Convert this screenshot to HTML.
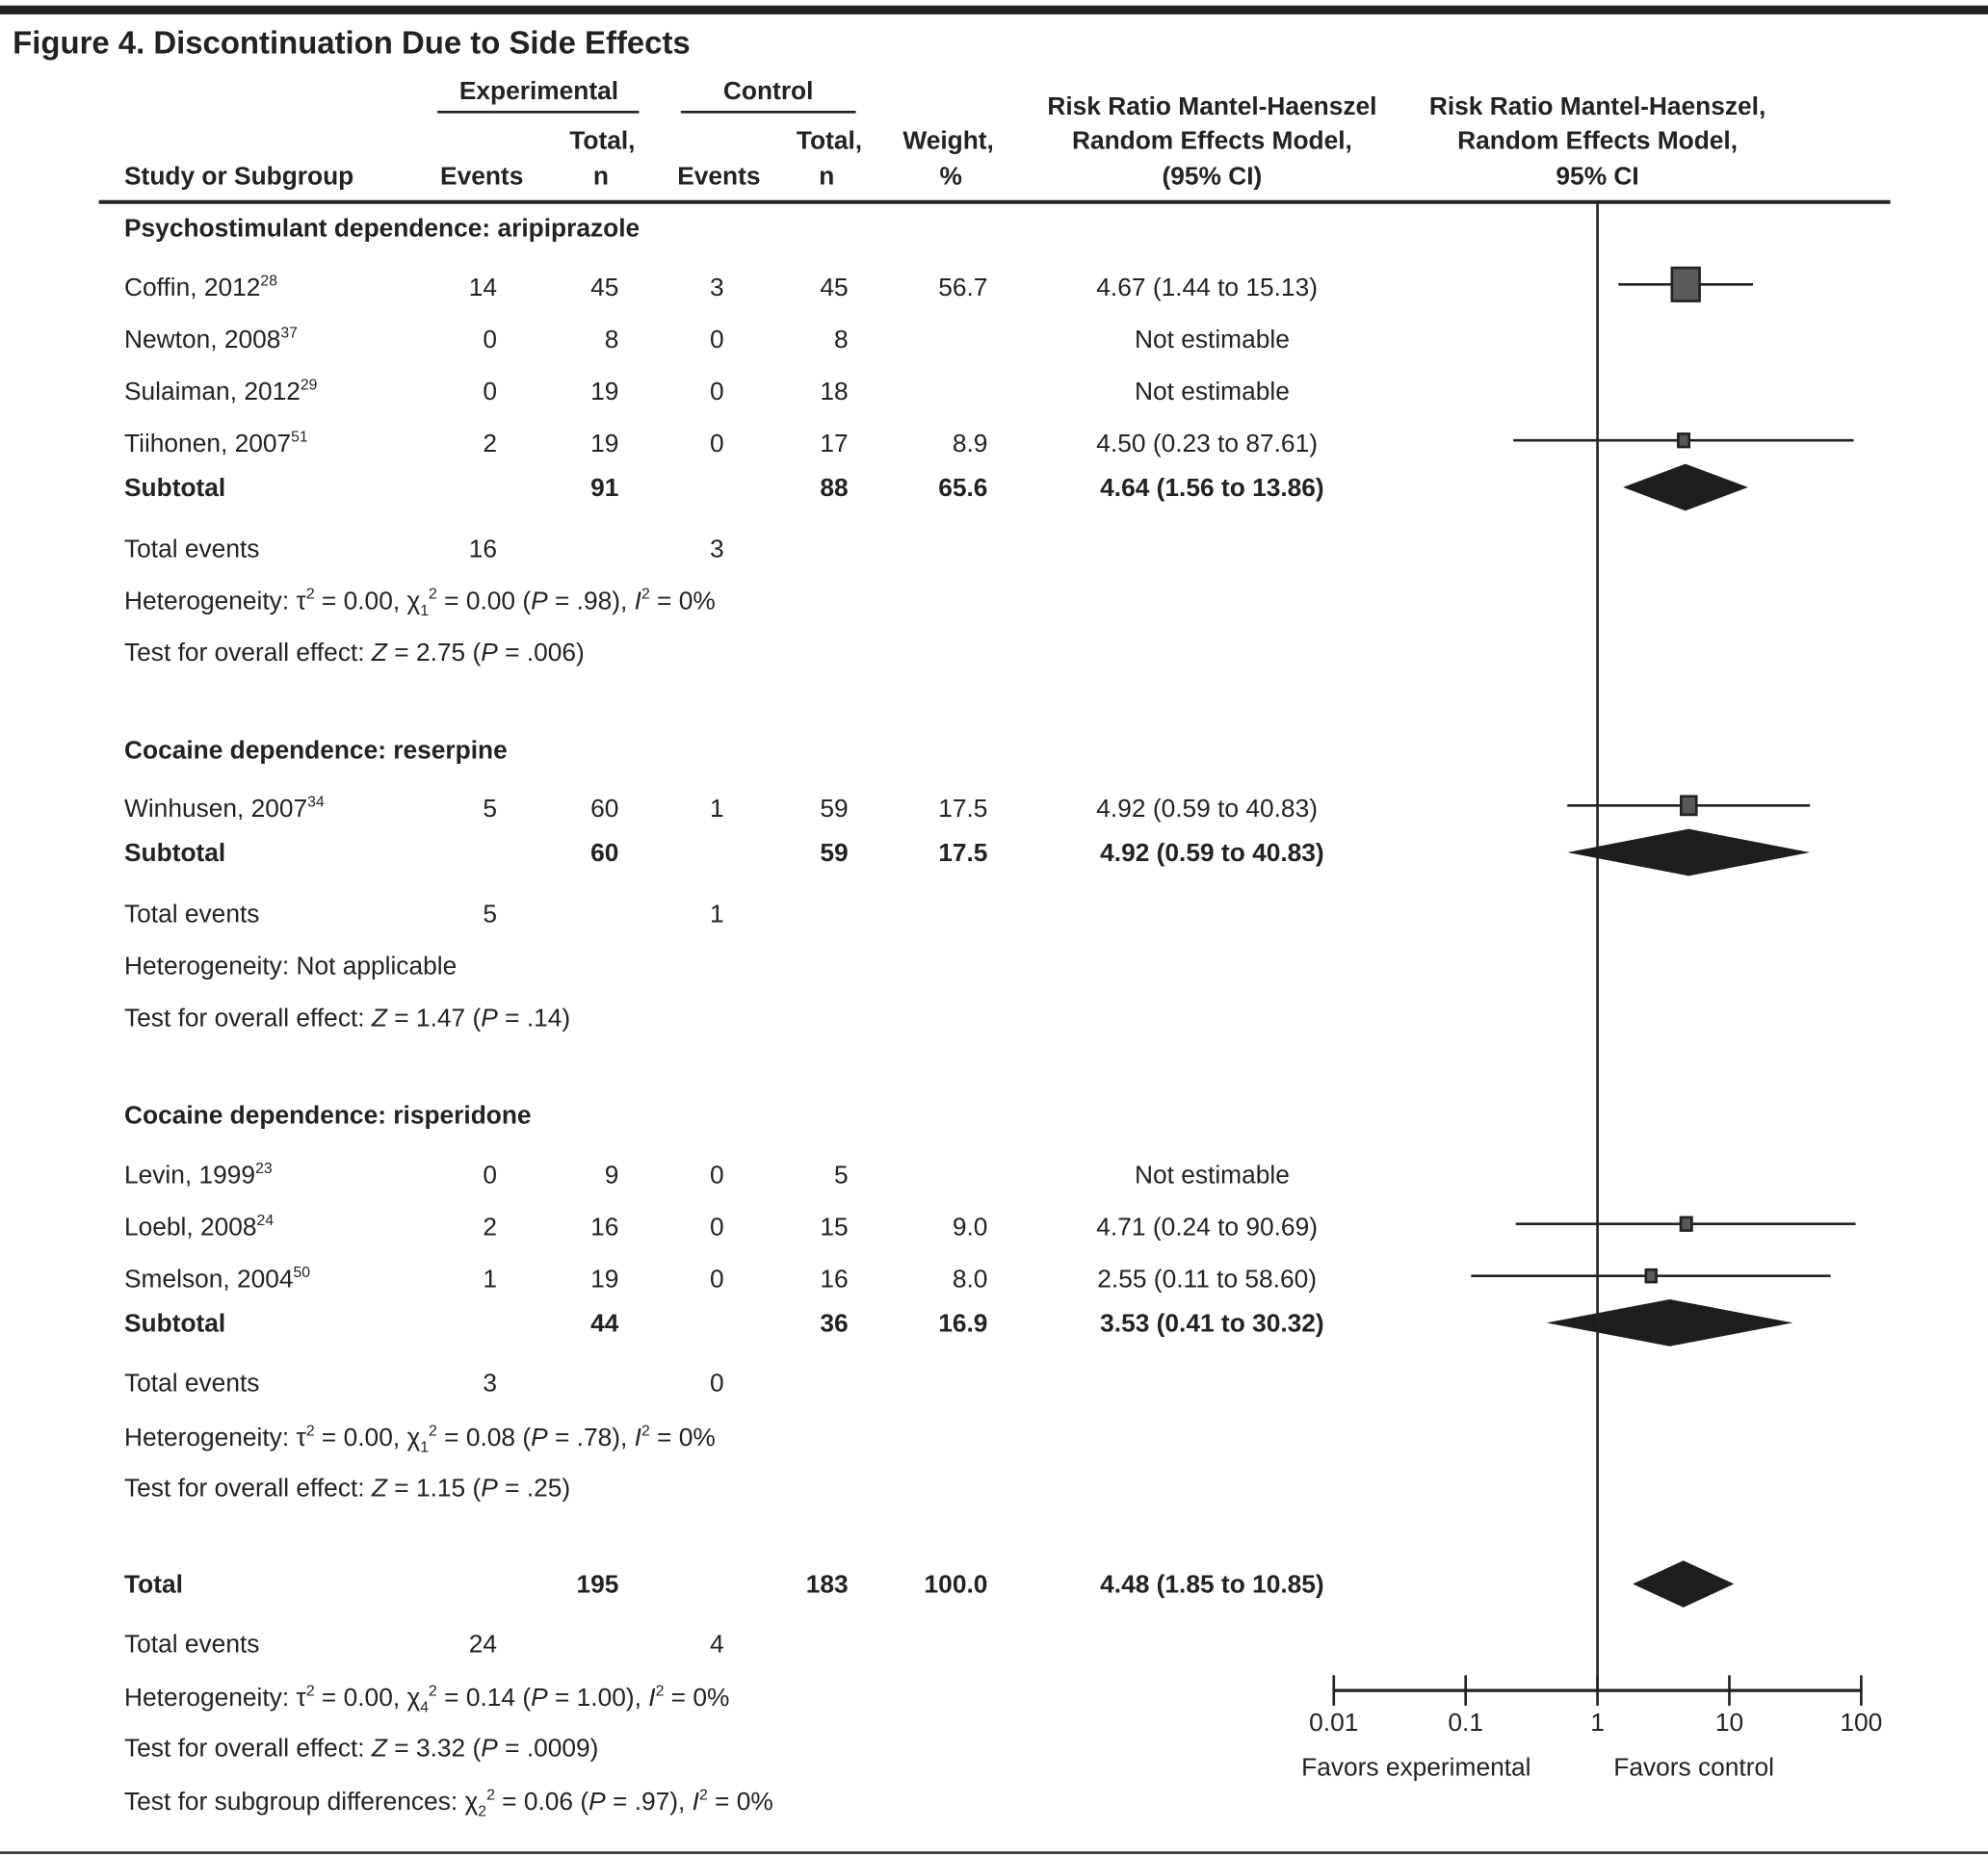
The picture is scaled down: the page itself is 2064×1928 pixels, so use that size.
<!DOCTYPE html>
<html><head><meta charset="utf-8"><style>
html,body{margin:0;padding:0;background:#fff}
svg{display:block}
text{font-family:"Liberation Sans",sans-serif;fill:#222;font-size:20px}
.b{font-weight:bold}
.i{font-style:italic}
</style></head><body>
<svg id="fig" width="2064" height="1928" viewBox="0 0 1568 1464" xmlns="http://www.w3.org/2000/svg">
<rect x="0" y="4" width="1568" height="7" fill="#222"/>
<text x="10" y="42" class="b" style="font-size:25px">Figure 4. Discontinuation Due to Side Effects</text>
<g>
<text class="b" x="425" y="78" text-anchor="middle">Experimental</text>
<line x1="345" y1="88" x2="504" y2="88" stroke="#222" stroke-width="2"/>
<text class="b" x="606" y="78" text-anchor="middle">Control</text>
<line x1="537" y1="88" x2="675" y2="88" stroke="#222" stroke-width="2"/>
<text class="b" x="98" y="145">Study or Subgroup</text>
<text class="b" x="380" y="145" text-anchor="middle">Events</text>
<text class="b" x="501" y="117" text-anchor="end">Total,</text>
<text class="b" x="474" y="145" text-anchor="middle">n</text>
<text class="b" x="567" y="145" text-anchor="middle">Events</text>
<text class="b" x="680" y="117" text-anchor="end">Total,</text>
<text class="b" x="652" y="145" text-anchor="middle">n</text>
<text class="b" x="748" y="117" text-anchor="middle">Weight,</text>
<text class="b" x="750" y="145" text-anchor="middle">%</text>
<text class="b" x="956" y="90" text-anchor="middle">Risk Ratio Mantel-Haenszel</text>
<text class="b" x="956" y="117" text-anchor="middle">Random Effects Model,</text>
<text class="b" x="956" y="145" text-anchor="middle">(95% CI)</text>
<text class="b" x="1260" y="90" text-anchor="middle">Risk Ratio Mantel-Haenszel,</text>
<text class="b" x="1260" y="117" text-anchor="middle">Random Effects Model,</text>
<text class="b" x="1260" y="145" text-anchor="middle">95% CI</text>
</g>
<line x1="78" y1="159" x2="1491" y2="159" stroke="#222" stroke-width="3"/>
<line x1="0" y1="1461" x2="1568" y2="1461" stroke="#333" stroke-width="2"/>
<g id="rows"></g>
<g id="plot"></g>
</svg>
<script>
const studies = ["Coffin, 2012","Newton, 2008","Sulaiman, 2012","Tiihonen, 2007","Winhusen, 2007","Levin, 1999","Loebl, 2008","Smelson, 2004"];
const refs = ["28","37","29","51","34","23","24","50"];
const studyY = [226,267,308,349,637,926,967,1008];
const expEvents = [14,0,0,2,5,0,2,1];
const expTotal = [45,8,19,19,60,9,16,19];
const ctlEvents = [3,0,0,0,1,0,0,0];
const ctlTotal = [45,8,18,17,59,5,15,16];
const weights = [56.7,null,null,8.9,17.5,null,9.0,8.0];
const rr = [4.67,null,null,4.50,4.92,null,4.71,2.55];
const lo = [1.44,null,null,0.23,0.59,null,0.24,0.11];
const hi = [15.13,null,null,87.61,40.83,null,90.69,58.60];
const sumLabels = ["Subtotal","Subtotal","Subtotal","Total"];
const sumY = [384,672,1043,1249];
const sumExpTotal = [91,60,44,195];
const sumCtlTotal = [88,59,36,183];
const sumWeight = ["65.6","17.5","16.9","100.0"];
const sumRR = [4.64,4.92,3.53,4.48];
const sumLo = [1.56,0.59,0.41,1.85];
const sumHi = [13.86,40.83,30.32,10.85];
const axisTicks = [0.01,0.1,1,10,100];
const tickLabels = ["0.01","0.1","1","10","100"];

const NS="http://www.w3.org/2000/svg";
const rows=document.getElementById('rows'), plot=document.getElementById('plot');
function xs(v){return 1260+104*Math.log10(v);}
function t(parent,x,y,str,anchor,cls){const e=document.createElementNS(NS,'text');e.setAttribute('x',x);e.setAttribute('y',y);if(anchor)e.setAttribute('text-anchor',anchor);if(cls)e.setAttribute('class',cls);e.innerHTML=str;parent.appendChild(e);return e;}
function f2(v){return v.toFixed(2);}

studies.forEach((s,i)=>{
  const y=studyY[i]+7;
  const g=document.createElementNS(NS,'g');
  
  
  rows.appendChild(g);
  t(g,98,y,s+'<tspan dy="-8" style="font-size:12px">'+refs[i]+'</tspan>');
  t(g,392,y,expEvents[i],'end');
  t(g,488,y,expTotal[i],'end');
  t(g,571,y,ctlEvents[i],'end');
  t(g,669,y,ctlTotal[i],'end');
  if(weights[i]!==null){
    t(g,779,y,weights[i].toFixed(1),'end');
    t(g,952,y,f2(rr[i])+' ('+f2(lo[i])+' to '+f2(hi[i])+')','middle');
    const ln=document.createElementNS(NS,'line');
    
    
    ln.setAttribute('x1',xs(lo[i]));ln.setAttribute('x2',xs(hi[i]));
    ln.setAttribute('y1',studyY[i]-2);ln.setAttribute('y2',studyY[i]-2);
    ln.setAttribute('stroke','#222');ln.setAttribute('stroke-width','2');
    plot.appendChild(ln);
    const sz=2.9*Math.sqrt(weights[i]);
    const r=document.createElementNS(NS,'rect');
    
    
    r.setAttribute('x',xs(rr[i])-sz/2);r.setAttribute('y',studyY[i]-2-sz*0.6);
    r.setAttribute('width',sz);r.setAttribute('height',sz*1.2);
    r.setAttribute('fill','#5a5a5a');r.setAttribute('stroke','#222');r.setAttribute('stroke-width','2');
    plot.appendChild(r);
  } else {
    t(g,956,y,'Not estimable','middle');
  }
});

sumLabels.forEach((s,i)=>{
  const y=sumY[i]+7;
  const g=document.createElementNS(NS,'g');
  
  
  rows.appendChild(g);
  t(g,98,y,s,null,'b');
  t(g,488,y,sumExpTotal[i],'end','b');
  t(g,669,y,sumCtlTotal[i],'end','b');
  t(g,779,y,sumWeight[i],'end','b');
  t(g,956,y,f2(sumRR[i])+' ('+f2(sumLo[i])+' to '+f2(sumHi[i])+')','middle','b');
  const d=document.createElementNS(NS,'polygon');
  
  
  const cy=sumY[i], h=18.5;
  d.setAttribute('points',`${xs(sumLo[i])},${cy} ${xs(sumRR[i])},${cy-h} ${xs(sumHi[i])},${cy} ${xs(sumRR[i])},${cy+h}`);
  d.setAttribute('fill','#1e1e1e');
  plot.appendChild(d);
});

const g2=document.createElementNS(NS,'g');


rows.appendChild(g2);
t(g2,98,186,'Psychostimulant dependence: aripiprazole',null,'b');
t(g2,98,598,'Cocaine dependence: reserpine',null,'b');
t(g2,98,886,'Cocaine dependence: risperidone',null,'b');
const sm='style="font-size:12px"';
[[439,'16','3'],[727,'5','1'],[1097,'3','0'],[1303,'24','4']].forEach(r=>{
  t(g2,98,r[0],'Total events');t(g2,392,r[0],r[1],'end');t(g2,571,r[0],r[2],'end');
});
t(g2,98,480,'Heterogeneity: τ<tspan dy="-8" '+sm+'>2</tspan><tspan dy="8"> = 0.00, χ</tspan><tspan dy="5" '+sm+'>1</tspan><tspan dy="-13" '+sm+'>2</tspan><tspan dy="8"> = 0.00 (</tspan><tspan class="i">P</tspan> = .98), <tspan class="i">I</tspan><tspan dy="-8" '+sm+'>2</tspan><tspan dy="8"> = 0%</tspan>');
t(g2,98,521,'Test for overall effect: <tspan class="i">Z</tspan> = 2.75 (<tspan class="i">P</tspan> = .006)');
t(g2,98,768,'Heterogeneity: Not applicable');
t(g2,98,809,'Test for overall effect: <tspan class="i">Z</tspan> = 1.47 (<tspan class="i">P</tspan> = .14)');
t(g2,98,1140,'Heterogeneity: τ<tspan dy="-8" '+sm+'>2</tspan><tspan dy="8"> = 0.00, χ</tspan><tspan dy="5" '+sm+'>1</tspan><tspan dy="-13" '+sm+'>2</tspan><tspan dy="8"> = 0.08 (</tspan><tspan class="i">P</tspan> = .78), <tspan class="i">I</tspan><tspan dy="-8" '+sm+'>2</tspan><tspan dy="8"> = 0%</tspan>');
t(g2,98,1180,'Test for overall effect: <tspan class="i">Z</tspan> = 1.15 (<tspan class="i">P</tspan> = .25)');
t(g2,98,1345,'Heterogeneity: τ<tspan dy="-8" '+sm+'>2</tspan><tspan dy="8"> = 0.00, χ</tspan><tspan dy="5" '+sm+'>4</tspan><tspan dy="-13" '+sm+'>2</tspan><tspan dy="8"> = 0.14 (</tspan><tspan class="i">P</tspan> = 1.00), <tspan class="i">I</tspan><tspan dy="-8" '+sm+'>2</tspan><tspan dy="8"> = 0%</tspan>');
t(g2,98,1385,'Test for overall effect: <tspan class="i">Z</tspan> = 3.32 (<tspan class="i">P</tspan> = .0009)');
t(g2,98,1427,'Test for subgroup differences: χ<tspan dy="5" '+sm+'>2</tspan><tspan dy="-13" '+sm+'>2</tspan><tspan dy="8"> = 0.06 (</tspan><tspan class="i">P</tspan> = .97), <tspan class="i">I</tspan><tspan dy="-8" '+sm+'>2</tspan><tspan dy="8"> = 0%</tspan>');

const ref=document.createElementNS(NS,'line');


ref.setAttribute('x1',xs(1));ref.setAttribute('x2',xs(1));ref.setAttribute('y1',159);ref.setAttribute('y2',1333);
ref.setAttribute('stroke','#222');ref.setAttribute('stroke-width','2');
plot.appendChild(ref);
const ax=document.createElementNS(NS,'line');


ax.setAttribute('x1',xs(axisTicks[0]));ax.setAttribute('x2',xs(axisTicks[axisTicks.length-1]));
ax.setAttribute('y1',1333);ax.setAttribute('y2',1333);ax.setAttribute('stroke','#222');ax.setAttribute('stroke-width','2.5');
plot.appendChild(ax);
axisTicks.forEach((v,i)=>{
  const tk=document.createElementNS(NS,'line');
  
  
  tk.setAttribute('x1',xs(v));tk.setAttribute('x2',xs(v));tk.setAttribute('y1',1321);tk.setAttribute('y2',1345);
  tk.setAttribute('stroke','#222');tk.setAttribute('stroke-width','2');
  plot.appendChild(tk);
  const lb=t(plot,xs(v),1365,tickLabels[i],'middle');
  
  
});
const fe=t(plot,1117,1400,'Favors experimental','middle');


const fc=t(plot,1336,1400,'Favors control','middle');


</script>
</body></html>
